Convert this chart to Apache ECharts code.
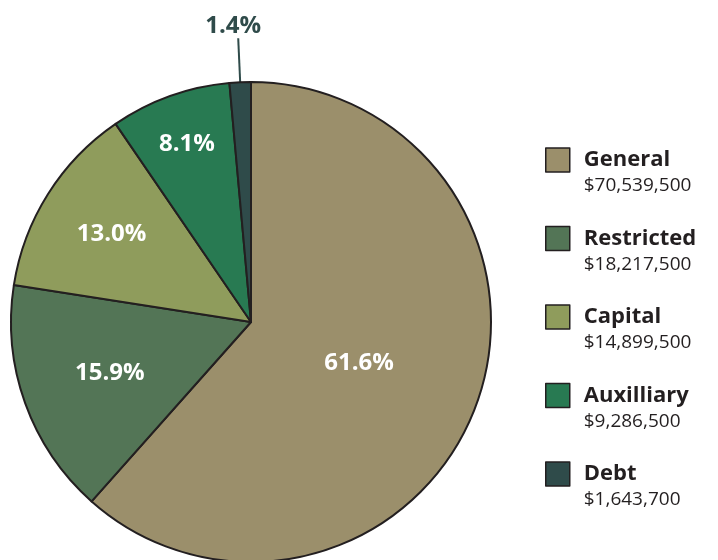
<!DOCTYPE html>
<html>
<head>
<meta charset="utf-8">
<script src="https://cdn.jsdelivr.net/npm/echarts@6/dist/echarts.min.js"></script>
<style>
  html, body { margin: 0; padding: 0; background: #fff; }
  #chart { width: 718px; height: 560px; }
</style>
</head>
<body>
<div id="chart"></div>
<script>
// fund names and amounts
var funds = ['General', 'Restricted', 'Capital', 'Auxilliary', 'Debt'];
var amounts = [70539500, 18217500, 14899500, 9286500, 1643700];
var colors = ['#9b8f6b', '#537556', '#8f9c5c', '#287a52', '#2f4b4a'];
// how far out (share of radius) each inside label sits
var labelRatio = [0.47, 0.61, 0.67, 0.77, 0];

var total = amounts.reduce(function (a, b) { return a + b; }, 0);
var cx = 251, cy = 322, r = 240;

function money(v) {
  return '$' + v.toString().replace(/\B(?=(\d{3})+(?!\d))/g, ',');
}

var pieData = funds.map(function (name, i) {
  var item = { name: name, value: amounts[i], itemStyle: { color: colors[i] } };
  if (name === 'Debt') {
    item.label = { position: 'outside', color: '#2f4b4a' };
    item.labelLine = { show: true, length: 44, length2: 0, lineStyle: { color: '#2f4b4a', width: 2 } };
  }
  return item;
});

var myChart = echarts.init(document.getElementById('chart'));
var option = {
  animation: false,
  legend: {
    orient: 'vertical',
    left: 540,
    top: 128,
    icon: 'rect',
    itemWidth: 24,
    itemHeight: 24,
    itemGap: 16,
    selectedMode: false,
    itemStyle: { borderColor: '#231f20', borderWidth: 1.5 },
    formatter: function (name) {
      var i = funds.indexOf(name);
      return '{e| }\n{n|' + name + '}\n{v|' + money(amounts[i]) + '}';
    },
    textStyle: {
      rich: {
        e: { fontSize: 2, lineHeight: 24 },
        n: { fontFamily: 'Open Sans', fontWeight: 'bold', fontSize: 22, color: '#231f20', lineHeight: 28, padding: [0, 0, 0, 9] },
        v: { fontFamily: 'Open Sans', fontSize: 19, color: '#231f20', lineHeight: 24, padding: [0, 0, 0, 9] }
      }
    }
  },
  series: [{
    type: 'pie',
    center: [cx, cy],
    radius: r,
    startAngle: 90,
    clockwise: true,
    label: {
      show: true,
      position: 'inside',
      color: '#fff',
      fontFamily: 'Open Sans',
      fontWeight: 'bold',
      fontSize: 24,
      formatter: function (p) {
        return (p.value / total * 100).toFixed(1) + '%';
      }
    },
    labelLine: { show: false },
    labelLayout: function (p) {
      if (p.dataIndex === 4) {
        return { align: 'center', verticalAlign: 'bottom' };
      }
      var lx = p.labelRect.x + p.labelRect.width / 2;
      var ly = p.labelRect.y + p.labelRect.height / 2;
      var k = labelRatio[p.dataIndex] / 0.5;
      return {
        x: cx + (lx - cx) * k,
        y: cy + (ly - cy) * k,
        align: 'center',
        verticalAlign: 'middle'
      };
    },
    itemStyle: { borderColor: '#231f20', borderWidth: 2 },
    emphasis: { disabled: true },
    data: pieData
  }]
};
myChart.setOption(option);
</script>
</body>
</html>
